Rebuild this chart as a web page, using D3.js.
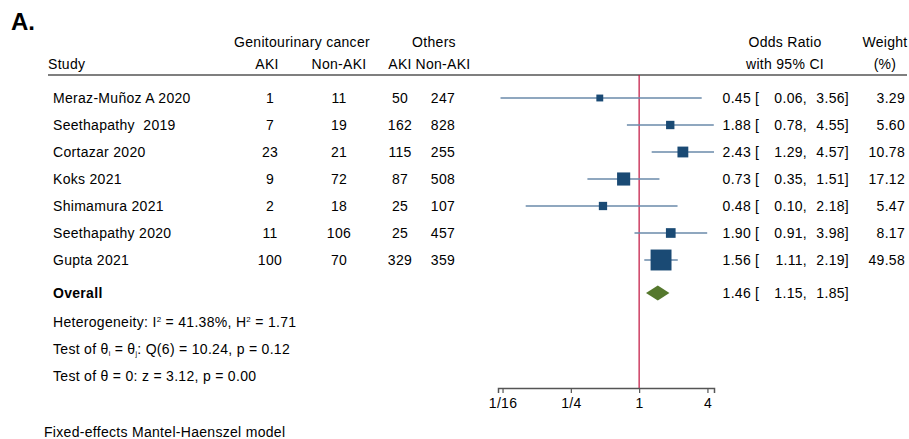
<!DOCTYPE html>
<html>
<head>
<meta charset="utf-8">
<script src="https://cdn.jsdelivr.net/npm/d3@7"></script>
<style>
body { margin: 0; background: #fff; }
text { font-family: "Liberation Sans", Arial, sans-serif; font-size: 14px; letter-spacing: 0.3px; fill: #000; white-space: pre; }
</style>
</head>
<body>
<div id="chart"></div>
<script>
var studies = ["Meraz-Muñoz A 2020", "Seethapathy  2019", "Cortazar 2020", "Koks 2021", "Shimamura 2021", "Seethapathy 2020", "Gupta 2021"];
var guAki = [1, 7, 23, 9, 2, 11, 100];
var guNonAki = [11, 19, 21, 72, 18, 106, 70];
var othAki = [50, 162, 115, 87, 25, 25, 329];
var othNonAki = [247, 828, 255, 508, 107, 457, 359];
var or = [0.45, 1.88, 2.43, 0.73, 0.48, 1.90, 1.56];
var lower = [0.06, 0.78, 1.29, 0.35, 0.10, 0.91, 1.11];
var upper = [3.56, 4.55, 4.57, 1.51, 2.18, 3.98, 2.19];
var weight = [3.29, 5.60, 10.78, 17.12, 5.47, 8.17, 49.58];
var overall = {or: 1.46, lower: 1.15, upper: 1.85};
var tickVals = [1/16, 1/4, 1, 4];
var tickLabels = ["1/16", "1/4", "1", "4"];
// each note as pieces: [text, "n" normal | "sup" | "sub"]
var notes = [
  [["Heterogeneity: I", "n"], ["2", "sup"], [" = 41.38%, H", "n"], ["2", "sup"], [" = 1.71", "n"]],
  [["Test of \u03B8", "n"], ["i", "sub"], [" = \u03B8", "n"], ["j", "sub"], [": Q(6) = 10.24, p = 0.12", "n"]],
  [["Test of \u03B8 = 0: z = 3.12, p = 0.00", "n"]]
];

var width = 909, height = 439;
var svg = d3.select("#chart").append("svg")
  .attr("width", width)
  .attr("height", height);

var x = d3.scaleLog().base(2)
  .domain([0.057, 4.57])
  .range([498, 714]);

var rowY = d3.scaleLinear().domain([0, 1]).range([98, 125]);
var boxSize = d3.scaleSqrt().domain([0, 50]).range([2, 21]);

var fmt = d3.format(".2f");

// panel letter
svg.append("text").attr("x", 11).attr("y", 30)
  .style("font-size", "24px").style("font-weight", "bold").style("letter-spacing", "0px").text("A.");

// headers
var hdr = [
  {t: "Genitourinary cancer", x: 302, y: 47},
  {t: "Others", x: 434, y: 47},
  {t: "AKI", x: 267, y: 69},
  {t: "Non-AKI", x: 339, y: 69},
  {t: "AKI", x: 400, y: 69},
  {t: "Non-AKI", x: 443, y: 69},
  {t: "Odds Ratio", x: 785, y: 47},
  {t: "with 95% CI", x: 785, y: 69},
  {t: "Weight", x: 885, y: 47},
  {t: "(%)", x: 885, y: 69}
];
svg.selectAll(".hdr").data(hdr).enter().append("text")
  .attr("x", function(d) { return d.x; })
  .attr("y", function(d) { return d.y; })
  .attr("text-anchor", "middle")
  .text(function(d) { return d.t; });
svg.append("text").attr("x", 48).attr("y", 69).text("Study");

svg.append("line")
  .attr("x1", 48).attr("x2", 907).attr("y1", 75).attr("y2", 75)
  .attr("stroke", "#555").attr("stroke-width", 1.5);

// reference line at 1
svg.append("line")
  .attr("x1", x(1)).attr("x2", x(1)).attr("y1", 75).attr("y2", 388)
  .attr("stroke", "#c0103c").attr("stroke-width", 1.2);

// rows
var rows = studies.map(function(s, i) { return i; });
var g = svg.selectAll(".row").data(rows).enter().append("g");

g.append("text").attr("x", 53).attr("y", function(i) { return rowY(i) + 5; })
  .text(function(i) { return studies[i]; });

var cols = [
  {arr: guAki, x: 270},
  {arr: guNonAki, x: 339},
  {arr: othAki, x: 400},
  {arr: othNonAki, x: 443}
];
cols.forEach(function(c) {
  g.append("text").attr("x", c.x).attr("y", function(i) { return rowY(i) + 5; })
    .attr("text-anchor", "middle")
    .text(function(i) { return c.arr[i]; });
});

g.append("line")
  .attr("x1", function(i) { return x(lower[i]); })
  .attr("x2", function(i) { return x(upper[i]); })
  .attr("y1", function(i) { return rowY(i); })
  .attr("y2", function(i) { return rowY(i); })
  .attr("stroke", "#6a8aaa").attr("stroke-width", 1.5);

g.append("rect")
  .attr("x", function(i) { return x(or[i]) - boxSize(weight[i]) / 2; })
  .attr("y", function(i) { return rowY(i) - boxSize(weight[i]) / 2; })
  .attr("width", function(i) { return boxSize(weight[i]); })
  .attr("height", function(i) { return boxSize(weight[i]); })
  .attr("fill", "#1a4a74");

function ciText(sel, yf, o, l, u) {
  sel.append("text").attr("x", 751).attr("y", yf).attr("text-anchor", "end").text(o);
  sel.append("text").attr("x", 755).attr("y", yf).text("[");
  sel.append("text").attr("x", 807).attr("y", yf).attr("text-anchor", "end").text(l);
  sel.append("text").attr("x", 849).attr("y", yf).attr("text-anchor", "end").text(u);
}
ciText(g, function(i) { return rowY(i) + 5; },
  function(i) { return fmt(or[i]); },
  function(i) { return fmt(lower[i]) + ","; },
  function(i) { return fmt(upper[i]) + "]"; });

g.append("text").attr("x", 905).attr("y", function(i) { return rowY(i) + 5; })
  .attr("text-anchor", "end")
  .text(function(i) { return fmt(weight[i]); });

// overall
var oy = 293;
svg.append("text").attr("x", 53).attr("y", oy + 5)
  .style("font-weight", "bold").text("Overall");
svg.append("path")
  .attr("d", "M" + x(overall.lower) + "," + oy +
    "L" + x(overall.or) + "," + (oy - 7.5) +
    "L" + x(overall.upper) + "," + oy +
    "L" + x(overall.or) + "," + (oy + 7.5) + "Z")
  .attr("fill", "#55782d");
var og = svg.append("g");
ciText(og, oy + 5, fmt(overall.or), fmt(overall.lower) + ",", fmt(overall.upper) + "]");

var nt = svg.selectAll(".note").data(notes).enter().append("text")
  .attr("x", 53)
  .attr("y", function(d, i) { return 327 + i * 27; });
nt.each(function(parts) {
  var t = d3.select(this);
  parts.forEach(function(p) {
    var s = t.append("tspan").text(p[0]);
    if (p[1] === "sup") s.style("font-size", "8px").attr("baseline-shift", "5");
    if (p[1] === "sub") s.style("font-size", "7px").attr("baseline-shift", "-2");
  });
});

// axis
var axis = svg.append("g")
  .attr("transform", "translate(0,388)")
  .call(d3.axisBottom(x).tickValues(tickVals)
    .tickFormat(function(d, i) { return tickLabels[i]; })
    .tickSizeOuter(0).tickSize(5));
axis.select(".domain").attr("stroke", "#555").attr("stroke-width", 1.5);
axis.selectAll(".tick line").attr("stroke", "#555").attr("stroke-width", 1.2)
  .attr("y1", 0).attr("y2", 5);
axis.selectAll(".tick text")
  .style("font-family", "'Liberation Sans', Arial, sans-serif")
  .style("font-size", "14px").attr("fill", "#000").attr("dy", "0.85em");

svg.append("text").attr("x", 44).attr("y", 437).text("Fixed-effects Mantel-Haenszel model");
</script>
</body>
</html>
